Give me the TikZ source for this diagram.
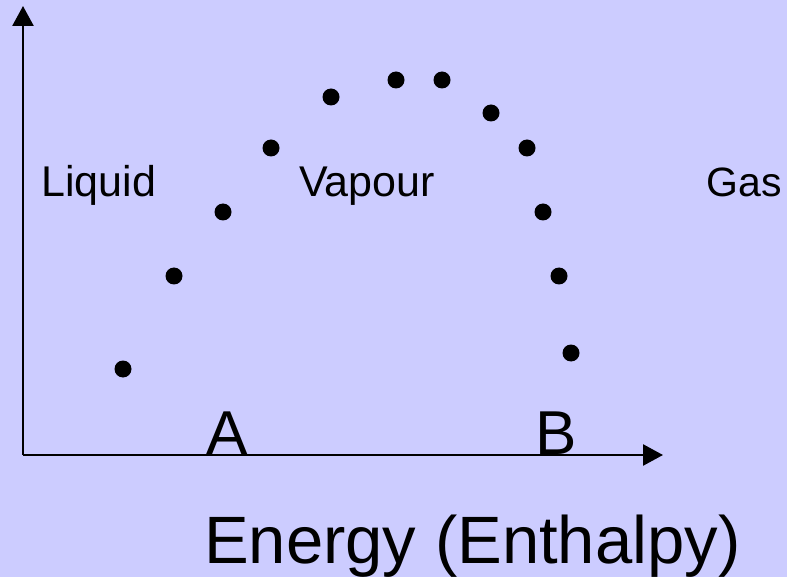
\documentclass[tikz,border=0pt]{standalone}
\usepackage{fontspec}
\setmainfont{Liberation Sans}
\usetikzlibrary{arrows.meta}
\definecolor{bgc}{HTML}{CCCCFF}
\tikzset{
  axis/.style={line width=2.6pt,-{Triangle[length=20pt,width=21pt]}},
  dot/.style={circle,fill=black,inner sep=0pt,minimum size=17pt},
  lbl/.style={inner sep=0pt,font=\fontsize{43}{47}\selectfont},
  big/.style={inner sep=0pt,font=\fontsize{62}{66}\selectfont},
  title/.style={inner sep=0pt,font=\fontsize{67}{71}\selectfont}
}
\begin{document}
\begin{tikzpicture}[x=1pt,y=-1pt]
\fill[bgc] (0,0) rectangle (787,577);
\useasboundingbox (0,0) rectangle (787,577);
\coordinate (o) at (23,455);
\coordinate (ytip) at (23,6);
\coordinate (xtip) at (663,455);
\draw[axis] (o) -- (ytip);
\draw[axis] (o) -- (xtip);
\foreach \n/\x/\y in {d1/123/369,d2/174/276,d3/223/212,d4/271/148,d5/331/97,d6/396/80,d7/442/80,d8/491/113,d9/527/148,d10/543/212,d11/559/276,d12/571/353}
  \node[dot] (\n) at (\x,\y) {};
\node[lbl,anchor=base west] (liq) at (41,197) {Liquid};
\node[lbl,anchor=base west] (vap) at (299,197) {Vapour};
\node[lbl,anchor=base east,font=\fontsize{41}{45}\selectfont] (gas) at (782,197) {Gas};
\node[big,anchor=base] (A) at (227,454) {A};
\node[big,anchor=base] (B) at (556,454) {B};
\node[title,anchor=base west] (en) at (204,563) {Energy (Enthalpy)};
\end{tikzpicture}
\end{document}
